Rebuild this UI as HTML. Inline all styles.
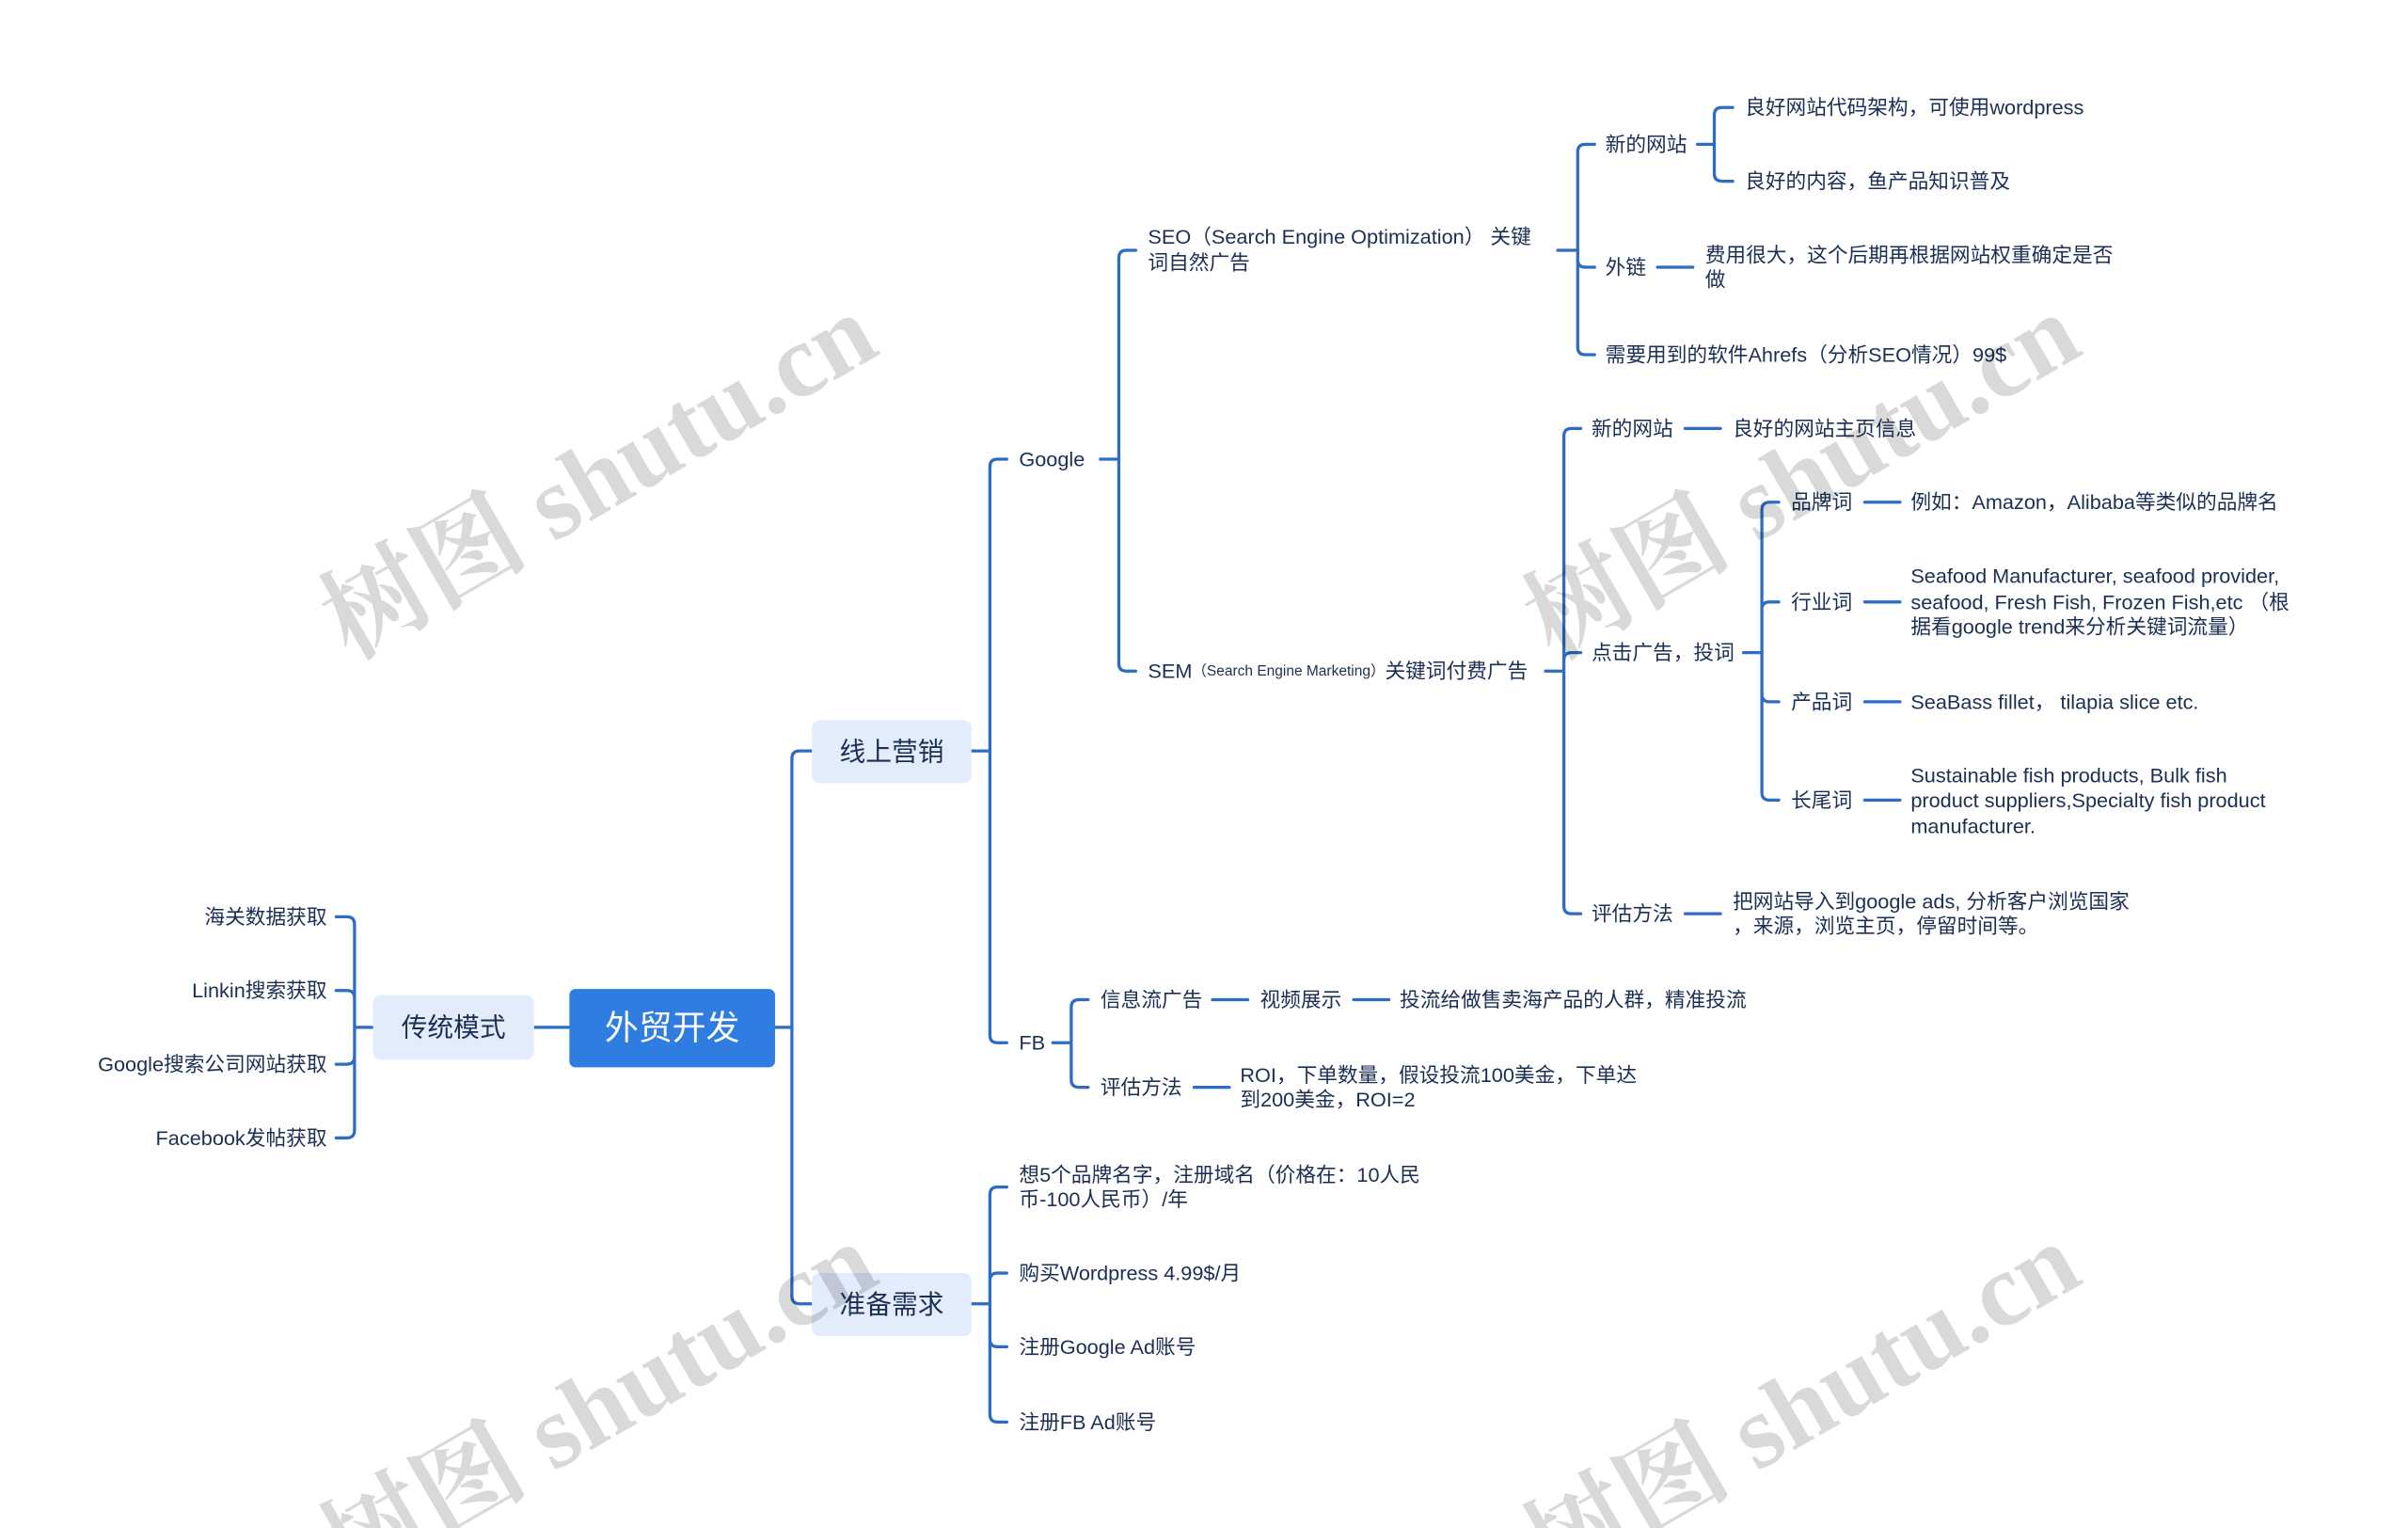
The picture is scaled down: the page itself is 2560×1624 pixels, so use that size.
<!DOCTYPE html>
<html><head><meta charset="utf-8"><style>
html,body{margin:0;padding:0;background:#fff;width:2560px;height:1624px;overflow:hidden;}
svg{display:block;}
text{font-family:"Liberation Sans","Noto Sans CJK SC",sans-serif;fill:#1b2f55;font-size:13.3px;dominant-baseline:central;}
.l{fill:none;stroke:#2c6cc4;stroke-width:2;stroke-linecap:round;}
.wm{font-family:"Liberation Serif","Noto Serif CJK SC",serif;font-size:68px;fill:#000;fill-opacity:0.15;font-weight:bold;dominant-baseline:auto;}
</style></head><body>
<svg width="2560" height="1624" viewBox="0 0 1569 995" preserveAspectRatio="none" xmlns="http://www.w3.org/2000/svg">
<path class="l" d="M348 669H371 M243 669H231 M231 669V602Q231 597 226 597H219 M231 669V650Q231 645 226 645H219 M231 669V688Q231 693 226 693H219 M231 669V736Q231 741 226 741H219"/>
<path class="l" d="M505 669H516 M516 669V494Q516 489 521 489H529 M516 669V844Q516 849 521 849H529"/>
<path class="l" d="M633 489H645 M645 489V304Q645 299 650 299H656 M645 489V674Q645 679 650 679H656"/>
<path class="l" d="M717 299H729 M729 299V168Q729 163 734 163H740 M729 299V432Q729 437 734 437H740"/>
<path class="l" d="M1015 163H1028 M1028 163V99Q1028 94 1033 94H1039 M1028 163V169Q1028 174 1033 174H1039 M1028 163V226Q1028 231 1033 231H1039"/>
<path class="l" d="M1106 94H1117 M1117 94V75Q1117 70 1122 70H1129 M1117 94V113Q1117 118 1122 118H1129 M1080 174H1103"/>
<path class="l" d="M1007 437H1019 M1019 437V284Q1019 279 1024 279H1030 M1019 437V430Q1019 425 1024 425H1030 M1019 437V590Q1019 595 1024 595H1030"/>
<path class="l" d="M1098 279H1121 M1098 595H1121 M1136 425H1148 M1148 425V332Q1148 327 1153 327H1159 M1148 425V397Q1148 392 1153 392H1159 M1148 425V452Q1148 457 1153 457H1159 M1148 425V516Q1148 521 1153 521H1159"/>
<path class="l" d="M1215 327H1238 M1215 392H1238 M1215 457H1238 M1215 521H1238"/>
<path class="l" d="M686 679H698 M698 679V656Q698 651 703 651H709 M698 679V703Q698 708 703 708H709 M790 651H813 M882 651H905 M778 708H801"/>
<path class="l" d="M633 849H645 M645 849V778Q645 773 650 773H656 M645 849V834Q645 829 650 829H656 M645 849V872Q645 877 650 877H656 M645 849V921Q645 926 650 926H656"/>

<rect x="371" y="644" width="134" height="51" rx="4" fill="#2f7de1"/>
<text x="438" y="669.5" text-anchor="middle" style="fill:#fff;font-size:22px">外贸开发</text>
<rect x="243" y="648" width="105" height="42" rx="5" fill="#e3ecfb"/>
<text x="295.5" y="669" text-anchor="middle" style="font-size:17px">传统模式</text>
<rect x="529" y="469" width="104" height="41" rx="5" fill="#e3ecfb"/>
<text x="581" y="489.5" text-anchor="middle" style="font-size:17px">线上营销</text>
<rect x="529" y="829" width="104" height="41" rx="5" fill="#e3ecfb"/>
<text x="581" y="849.5" text-anchor="middle" style="font-size:17px">准备需求</text>

<g text-anchor="end">
<text x="213" y="597">海关数据获取</text>
<text x="213" y="645">Linkin搜索获取</text>
<text x="213" y="693">Google搜索公司网站获取</text>
<text x="213" y="741">Facebook发帖获取</text>
</g>

<text x="664" y="299">Google</text>
<text x="664" y="679">FB</text>
<text x="748" y="154">SEO（Search Engine Optimization） 关键</text>
<text x="748" y="171">词自然广告</text>
<text x="748" y="437">SEM<tspan style="font-size:9.5px">（Search Engine Marketing）</tspan>关键词付费广告</text>

<text x="1046" y="94">新的网站</text>
<text x="1137" y="70">良好网站代码架构，可使用wordpress</text>
<text x="1137" y="118">良好的内容，鱼产品知识普及</text>
<text x="1046" y="174">外链</text>
<text x="1111" y="166">费用很大，这个后期再根据网站权重确定是否</text>
<text x="1111" y="182">做</text>
<text x="1046" y="231">需要用到的软件Ahrefs（分析SEO情况）99$</text>

<text x="1037" y="279">新的网站</text>
<text x="1129" y="279">良好的网站主页信息</text>
<text x="1037" y="425">点击广告，投词</text>
<text x="1167" y="327">品牌词</text>
<text x="1245" y="327">例如：Amazon，Alibaba等类似的品牌名</text>
<text x="1167" y="392">行业词</text>
<text x="1245" y="375">Seafood Manufacturer, seafood provider,</text>
<text x="1245" y="392">seafood, Fresh Fish, Frozen Fish,etc （根</text>
<text x="1245" y="408">据看google trend来分析关键词流量）</text>
<text x="1167" y="457">产品词</text>
<text x="1245" y="457">SeaBass fillet， tilapia slice etc.</text>
<text x="1167" y="521">长尾词</text>
<text x="1245" y="505">Sustainable fish products, Bulk fish</text>
<text x="1245" y="521">product suppliers,Specialty fish product</text>
<text x="1245" y="538">manufacturer.</text>
<text x="1037" y="595">评估方法</text>
<text x="1129" y="587">把网站导入到google ads, 分析客户浏览国家</text>
<text x="1129" y="603">，来源，浏览主页，停留时间等。</text>

<text x="717" y="651">信息流广告</text>
<text x="821" y="651">视频展示</text>
<text x="912" y="651">投流给做售卖海产品的人群，精准投流</text>
<text x="717" y="708">评估方法</text>
<text x="808" y="700">ROI，下单数量，假设投流100美金，下单达</text>
<text x="808" y="716">到200美金，ROI=2</text>

<text x="664" y="765">想5个品牌名字，注册域名（价格在：10人民</text>
<text x="664" y="781">币-100人民币）/年</text>
<text x="664" y="829">购买Wordpress 4.99$/月</text>
<text x="664" y="877">注册Google Ad账号</text>
<text x="664" y="926">注册FB Ad账号</text>

<text class="wm" transform="translate(228,430) rotate(-30)">树图 shutu.cn</text>
<text class="wm" transform="translate(1012,430) rotate(-30)">树图 shutu.cn</text>
<text class="wm" transform="translate(228,1035) rotate(-30)">树图 shutu.cn</text>
<text class="wm" transform="translate(1012,1035) rotate(-30)">树图 shutu.cn</text>
</svg>
</body></html>
